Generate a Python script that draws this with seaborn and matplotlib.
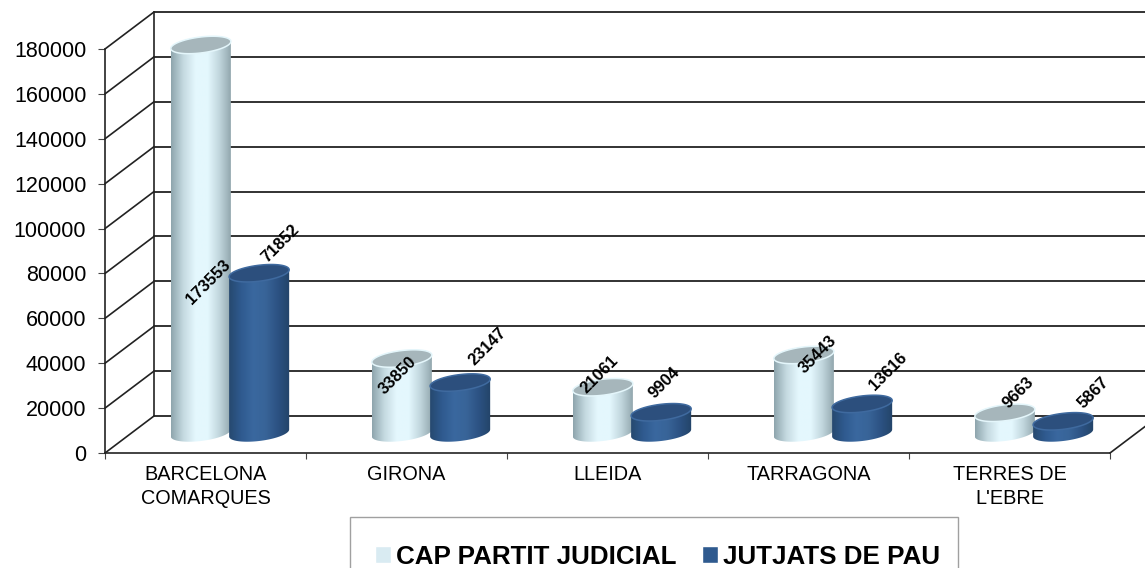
import numpy as np
import pandas as pd
import seaborn as sns
import matplotlib.pyplot as plt
from matplotlib.colors import LinearSegmentedColormap
from matplotlib.patches import Polygon, Rectangle

zones = ["BARCELONA\nCOMARQUES", "GIRONA", "LLEIDA", "TARRAGONA", "TERRES DE\nL'EBRE"]
cap_partit = [173553, 33850, 21061, 35443, 9663]
jutjats_pau = [71852, 23147, 9904, 13616, 5867]
series_names = ["CAP PARTIT JUDICIAL", "JUTJATS DE PAU"]
y_ticks = [0, 20000, 40000, 60000, 80000, 100000, 120000, 140000, 160000, 180000]

# label offsets from the top of each cylinder, in pixels
off_cap = [(8, -237), (-4, -17), (-3, 13), (14, 0), (13, 20)]
off_pau = [(21, 30), (27, 36), (3, 29), (26, 32), (30, 29)]

df = pd.DataFrame({
    "zona": zones * 2,
    "serie": [series_names[0]] * 5 + [series_names[1]] * 5,
    "valor": cap_partit + jutjats_pau,
})

sns.set_style("white")
plt.rcParams["font.family"] = ["Liberation Sans", "DejaVu Sans"]

W, H = 1145, 568
fig = plt.figure(figsize=(W / 100, H / 100), dpi=100)
ax = fig.add_axes([105 / W, (H - 453) / H, 1005 / W, 404 / H])

colors = ["#d9ebf2", "#2f5a8f"]
sns.barplot(data=df, x="zona", y="valor", hue="serie", palette=colors,
            width=0.58, gap=0, saturation=1, ax=ax)

handles, labels = ax.get_legend_handles_labels()
if ax.get_legend() is not None:
    ax.get_legend().remove()

# pixel sizes in data units
px_x = 1 / 201
px_y = 180000 / 404
wall_x = 49 * px_x
wall_y = 37 * px_y
line_col = "#222222"

# back wall and side wall
for t in y_ticks:
    ax.plot([-0.5, -0.5 + wall_x], [t, t + wall_y], color=line_col, lw=1.2, clip_on=False, zorder=1)
    ax.plot([-0.5 + wall_x, 4.5 + wall_x], [t + wall_y, t + wall_y], color=line_col, lw=1.3,
            clip_on=False, zorder=1)
ax.plot([-0.5 + wall_x, -0.5 + wall_x], [wall_y, 180000 + wall_y], color=line_col, lw=1.2,
        clip_on=False, zorder=1)
ax.plot([4.5, 4.5 + wall_x], [0, wall_y], color=line_col, lw=1.2, clip_on=False, zorder=1)

cmaps = [
    LinearSegmentedColormap.from_list("claro", ["#8ea5ad", "#c4d9e0", "#e4f7fd", "#e4f8fe", "#c0d5dc", "#8ea3aa"]),
    LinearSegmentedColormap.from_list("fosc", ["#26496f", "#2f5a8f", "#3a689f", "#386498", "#2c5283", "#234468"]),
]
top_cols = ["#a6b6bb", "#2c4f7d"]
rim_cols = ["#e4f6fb", "#3f6a9f"]
grad = np.linspace(0, 1, 256).reshape(1, -1)

shift_x = wall_x / 2
shift_y = wall_y / 2
b = 8 * px_y
tilt = 3.5 * px_y
t_low = np.linspace(np.pi, 2 * np.pi, 60)
t_all = np.linspace(0, 2 * np.pi, 120)

for i, container in enumerate(ax.containers):
    offsets = [off_cap, off_pau][i]
    for j, bar in enumerate(container):
        cx = bar.get_x() + bar.get_width() / 2 + shift_x
        a = bar.get_width() / 2 * 1.03
        base = shift_y + 1.5 * px_y
        top = bar.get_height() + shift_y
        low_x = cx + a * np.cos(t_low)
        low_y = base + b * np.sin(t_low) + tilt * np.cos(t_low)
        body = np.vstack([
            [[cx - a, top - tilt]],
            np.column_stack([low_x, low_y]),
            [[cx + a, top + tilt]],
        ])
        z = 3 + i
        clip = Polygon(body, closed=True, transform=ax.transData)
        im = ax.imshow(grad, cmap=cmaps[i], extent=(cx - a, cx + a, base - 2 * b, top + 2 * b),
                       aspect="auto", zorder=z, interpolation="bilinear")
        im.set_clip_box(fig.bbox)
        im.set_clip_path(clip)
        cap = np.column_stack([cx + a * np.cos(t_all), top + b * np.sin(t_all) + tilt * np.cos(t_all)])
        ax.add_patch(Polygon(cap, closed=True, facecolor=top_cols[i], edgecolor=rim_cols[i],
                             lw=1.1, clip_on=False, zorder=z + 0.2))
        dx, dy = offsets[j]
        ax.annotate(str(int(bar.get_height())), xy=(cx, top), xycoords="data",
                    xytext=(dx, dy), textcoords="offset pixels", rotation=45,
                    ha="center", va="center", fontsize=12, fontweight="bold",
                    color="black", zorder=8, annotation_clip=False)
    for bar in container:
        bar.set_visible(False)

ax.set_xlim(-0.5, 4.5)
ax.set_ylim(0, 180000)
ax.set_xlabel("")
ax.set_ylabel("")
ax.set_yticks(y_ticks)
ax.set_xticks(range(5))
ax.set_xticklabels(zones, fontsize=14.3, color="black", linespacing=1.3)
ax.set_xticks(np.arange(-0.5, 5, 1), minor=True)
ax.tick_params(axis="x", which="major", length=0, pad=9)
ax.tick_params(axis="x", which="minor", length=4, width=0.8, color="#444444", bottom=True)
ax.tick_params(axis="y", length=5, width=0.8, color="#444444", left=True, labelsize=15.5,
               labelcolor="black", pad=8.5)
ax.patch.set_alpha(0)

sns.despine(ax=ax, top=True, right=True)
for side in ["left", "bottom"]:
    ax.spines[side].set_color(line_col)
    ax.spines[side].set_linewidth(1.2)
    ax.spines[side].set_zorder(2)

# legend box runs off the bottom of the picture
fig.add_artist(Rectangle((350 / W, -40 / H), 608 / W, (H - 517 + 40) / H, transform=fig.transFigure,
                         facecolor="white", edgecolor="#a0a0a0", lw=1))
leg = fig.legend(handles, labels, ncol=2, frameon=False, loc="center left",
                 bbox_to_anchor=(375 / W, 1 - 556.5 / H), bbox_transform=fig.transFigure,
                 borderpad=0, borderaxespad=0, handlelength=0.6, handleheight=0.6,
                 handletextpad=0.2, columnspacing=1.0, labelcolor="black",
                 prop={"size": 18.7, "weight": "bold"})

fig.savefig("out.png", dpi=100)
